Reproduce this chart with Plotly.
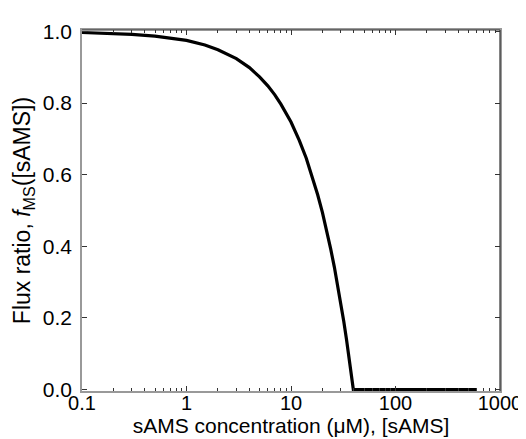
import plotly.graph_objects as go

# sAMS concentration (uM) and flux ratio
conc = [0.1, 0.2, 0.3, 0.5, 0.8, 1.0, 1.5, 2.0, 3.0, 4.0, 5.0, 6.0, 7.0, 8.0, 10.0,
        12.0, 14.0, 16.0, 18.0, 20.0, 22.0, 24.0, 26.0, 28.0, 30.0, 32.0, 34.0, 36.0,
        38.0, 39.5, 100.0, 300.0, 600.0]
flux = [0.997, 0.995, 0.992, 0.987, 0.98, 0.975, 0.962, 0.949, 0.924, 0.899, 0.873,
        0.848, 0.823, 0.797, 0.747, 0.696, 0.646, 0.595, 0.544, 0.494, 0.443, 0.392,
        0.342, 0.291, 0.241, 0.19, 0.139, 0.089, 0.038, 0.0, 0.0, 0.0, 0.0]

x_tickvals = [0.1, 1, 10, 100, 1000]
x_ticktext = ["0.1", "1", "10", "100", "1000"]
y_tickvals = [0.0, 0.2, 0.4, 0.6, 0.8, 1.0]

fig = go.Figure()
fig.add_trace(go.Scatter(x=conc, y=flux, mode="lines",
                         line=dict(color="black", width=3.2), showlegend=False))

font_family = "Liberation Sans, Arial, sans-serif"
fig.update_layout(
    width=526, height=439,
    margin=dict(l=74, r=28, t=16, b=56),
    paper_bgcolor="white", plot_bgcolor="white",
    font=dict(family=font_family, color="black", size=21),
    xaxis=dict(type="log", range=[-1, 3], tickvals=x_tickvals, ticktext=x_ticktext,
               ticks="inside", ticklen=5, tickcolor="#333", showgrid=False,
               showline=True, linecolor="#999", linewidth=1.5, mirror="allticks",
               zeroline=False, tickfont=dict(size=20), ticklabelstandoff=-7,
               minor=dict(ticks="inside", ticklen=3, tickcolor="#333", showgrid=False, dtick="D1"),
               title=dict(text="sAMS concentration (μM), [sAMS]", font=dict(size=21), standoff=0)),
    yaxis=dict(range=[-0.004, 1.004], tickvals=y_tickvals, tickformat=".1f",
               ticks="inside", ticklen=5, tickcolor="#333", showgrid=False,
               showline=True, linecolor="#999", linewidth=1.5, mirror="allticks",
               zeroline=False, tickfont=dict(size=21), ticklabelstandoff=4,
               title=dict(text="Flux ratio, <i>f</i><sub>MS</sub>([sAMS])", font=dict(size=23), standoff=6)),
    shapes=[
        dict(type="line", xref="paper", yref="paper", x0=0, x1=1, y0=1, y1=1,
             line=dict(color="#333", width=1.2)),
        dict(type="line", xref="paper", yref="paper", x0=1, x1=1, y0=0, y1=1,
             line=dict(color="#333", width=1.2)),
    ],
)

fig.write_html("out.html")
